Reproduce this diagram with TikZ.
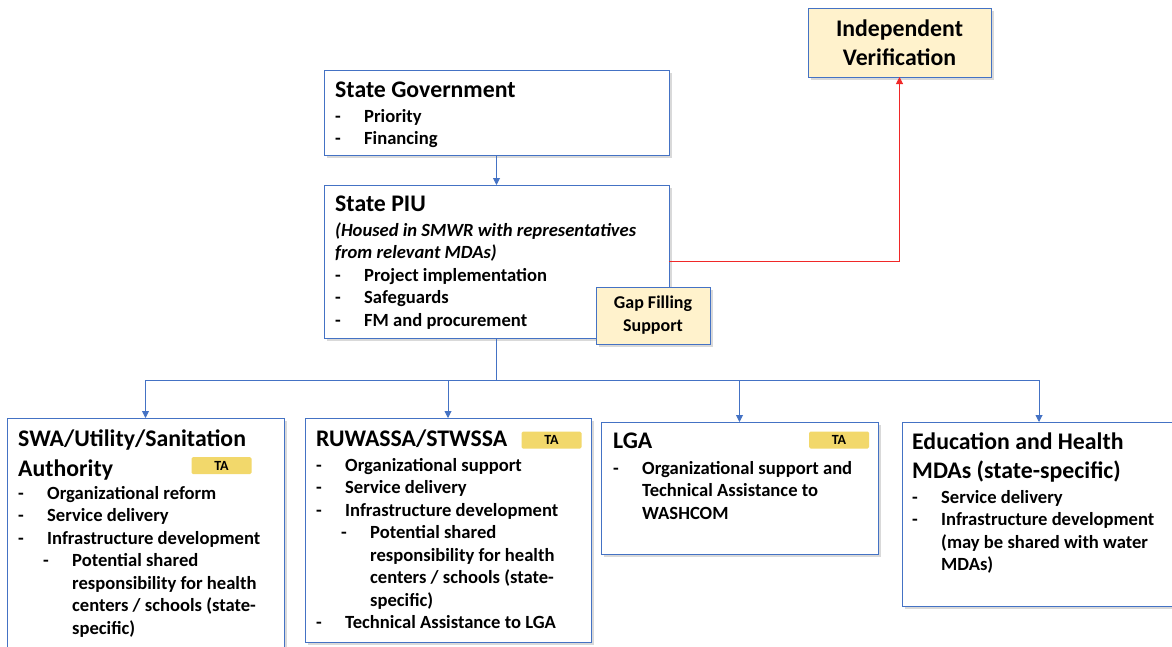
\documentclass[tikz,border=0pt]{standalone}
\usepackage{fontspec}
\setmainfont{Carlito}
\usetikzlibrary{arrows.meta,shadows}
\definecolor{boxblue}{HTML}{4472C4}
\definecolor{paleyellow}{HTML}{FFF2CC}
\definecolor{tagyellow}{HTML}{F2D86B}
\definecolor{linered}{RGB}{240,40,40}
\newcommand{\ttl}{\fontsize{23.8}{22.5}\selectfont}
\newcommand{\dsh}{\makebox[29pt][l]{-}}
\newcommand{\subdsh}{\hspace*{25pt}\makebox[29pt][l]{-}}
\newcommand{\ind}{\hspace*{29pt}}
\newcommand{\subind}{\hspace*{54pt}}
\newcommand{\firstln}{\rule{0pt}{20pt}}
\begin{document}
\begin{tikzpicture}[x=1pt,y=-1pt,
  box/.style={draw=boxblue,line width=1pt,fill=white,inner sep=0pt,outer sep=0pt,
    anchor=north west,drop shadow={shadow xshift=2.5pt,shadow yshift=-2.5pt,opacity=0.3}},
  notebox/.style={box,fill=paleyellow,anchor=center,align=center},
  txt/.style={anchor=north west,inner sep=0pt,align=left,
    font=\fontsize{18.6}{22.5}\selectfont\bfseries},
  tag/.style={fill=tagyellow,rounded corners=1.5pt,inner sep=0pt,minimum width=60pt,
    minimum height=17pt,font=\fontsize{14}{14}\selectfont\bfseries},
  bluearrow/.style={draw=boxblue,line width=0.9pt,-{Triangle[length=7pt,width=7pt,fill=boxblue]}},
  redarrow/.style={draw=linered,line width=1pt,-{Triangle[length=7pt,width=7pt,fill=linered]}}]
\useasboundingbox (0,0) rectangle (1172,646);
% boxes
\node[box,minimum width=345pt,minimum height=85pt] (gov) at (324,70) {};
\node[box,minimum width=345pt,minimum height=153pt] (piu) at (324,185) {};
\node[box,minimum width=277pt,minimum height=250pt] (swa) at (7,418) {};
\node[box,minimum width=286pt,minimum height=224pt] (ruw) at (305,418) {};
\node[box,minimum width=277pt,minimum height=132pt] (lga) at (601,422) {};
\node[box,minimum width=274pt,minimum height=184pt] (edu) at (902,422) {};
\node[notebox,minimum width=183pt,minimum height=69pt,font=\fontsize{23.8}{29}\selectfont\bfseries]
  (iv) at (899.5,42.5) {Independent\\Verification};
\node[notebox,minimum width=114pt,minimum height=57pt,font=\fontsize{18}{23}\selectfont\bfseries]
  (gap) at (653,315.5) {Gap Filling\\Support};
% texts
\node[txt] (govtext) at (335,77) {\firstln{\ttl State Government}\\[2.5pt]
  \dsh Priority\\ \dsh Financing};
\node[txt] (piutext) at (335,191) {\firstln{\ttl State PIU}\\[2.5pt]
  \textit{(Housed in SMWR with representatives}\\ \textit{from relevant MDAs)}\\
  \dsh Project implementation\\ \dsh Safeguards\\ \dsh FM and procurement};
\node[txt] (swatext) at (18,426) {\firstln{\ttl SWA/Utility/Sanitation}\\[7.5pt]
  {\ttl Authority}\\[0.5pt]
  \dsh Organizational reform\\ \dsh Service delivery\\ \dsh Infrastructure development\\
  \subdsh Potential shared\\ \subind responsibility for health\\
  \subind centers / schools (state-\\ \subind specific)};
\node[txt] (ruwtext) at (316,426) {\firstln{\ttl RUWASSA/STWSSA}\\[2.5pt]
  \dsh Organizational support\\ \dsh Service delivery\\ \dsh Infrastructure development\\
  \subdsh Potential shared\\ \subind responsibility for health\\
  \subind centers / schools (state-\\ \subind specific)\\
  \dsh Technical Assistance to LGA};
\node[txt] (lgatext) at (613,428) {\firstln{\ttl LGA}\\[3.5pt]
  \dsh Organizational support and\\ \ind Technical Assistance to\\ \ind WASHCOM};
\node[txt] (edutext) at (912,429) {\firstln{\ttl Education and Health}\\[6.5pt]
  {\ttl MDAs (state-specific)}\\[2.5pt]
  \dsh Service delivery\\ \dsh Infrastructure development\\
  \ind (may be shared with water\\ \ind MDAs)};
% TA tags
\node[tag] (swata) at (221.5,465.5) {\raisebox{-2pt}{TA}};
\node[tag] (ruwta) at (551.5,440) {\raisebox{-2pt}{TA}};
\node[tag] (lgata) at (839,440) {\raisebox{-2pt}{TA}};
% connectors
\draw[bluearrow] (gov.south) -- (piu.north);
\foreach \n in {swa,ruw,lga,edu}
  \draw[bluearrow] (piu.south) -- ++(0,42) -| (\n.north);
\begin{scope}[color=linered]
  \draw[redarrow] (piu.east) -- (piu.east -| iv.south) -- (iv.south);
\end{scope}
\end{tikzpicture}
\end{document}
